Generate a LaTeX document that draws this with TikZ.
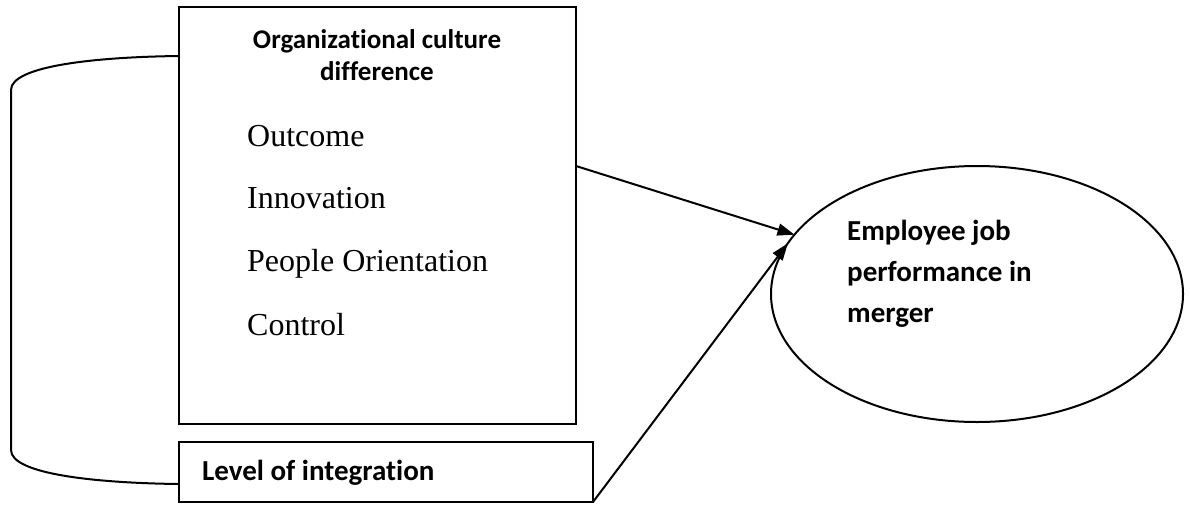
\documentclass[tikz,border=0pt]{standalone}
\usepackage{fontspec}
\setmainfont{Liberation Serif}
\newfontfamily\carlito[Ligatures=NoCommon]{Carlito}
\usetikzlibrary{shapes.geometric,arrows.meta}
\begin{document}
\begin{tikzpicture}[x=1pt,y=-1pt,
  frame/.style={draw, line width=2pt, inner sep=0pt, outer sep=0pt},
  heading/.style={font=\carlito\bfseries\fontsize{27}{32}\selectfont, inner sep=0pt},
  label/.style={font=\carlito\bfseries\fontsize{29}{34}\selectfont, inner sep=0pt, anchor=base west},
  item/.style={font=\fontsize{32}{38}\selectfont, inner sep=0pt, anchor=base west},
  link/.style={line width=2pt, -{Triangle[length=17pt,width=12pt]}}]
\useasboundingbox (0,0) rectangle (1190,504);

% boxes and the ellipse
\node[frame, anchor=north west, minimum width=397pt, minimum height=417pt] (culture) at (179,7) {};
\node[frame, anchor=north west, minimum width=414pt, minimum height=60pt] (integ) at (179,442) {};
\node[frame, ellipse, minimum width=412pt, minimum height=256pt] (perf) at (977,294) {};

% texts of the culture box
\node[heading, anchor=base] (head1) at (377,48) {Organizational culture};
\node[heading, anchor=base] (head2) at (377,80) {difference};
\node[item] (outcome) at (247,146) {Outcome};
\node[item] (innov) at (247,208) {Innovation};
\node[item] (people) at (247,271) {People Orientation};
\node[item] (control) at (247,335) {Control};

% text of the integration box
\node[label] (integtext) at (202,480) {Level of integration};

% text of the ellipse
\node[label] (perf1) at (847,240) {Employee job};
\node[label] (perf2) at (847,281) {performance in};
\node[label] (perf3) at (847,322) {merger};

% bracket joining the two boxes
\draw[line width=2pt]
  ([yshift=-49pt]culture.north west) .. controls (95,57) and (11,66) .. (11,90)
  -- (11,450) .. controls (11,474) and (95,483) .. ([yshift=-42pt]integ.north west);

% arrows into the ellipse
\draw[link] ([yshift=-159pt]culture.north east) -- (perf.162.5);
\draw[link] (integ.south east) -- (perf.165);
\end{tikzpicture}
\end{document}
